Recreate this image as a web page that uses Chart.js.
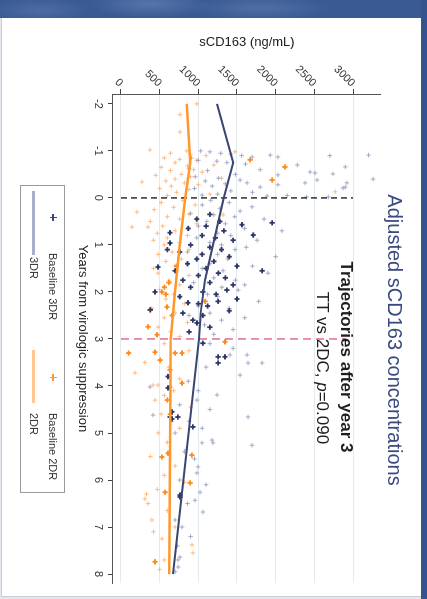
<!DOCTYPE html>
<html>
<head>
<meta charset="utf-8">
<script src="https://cdn.jsdelivr.net/npm/chart.js@4.4.1/dist/chart.umd.min.js"></script>
<style>
  html,body{margin:0;padding:0;}
  body{width:427px;height:599px;overflow:hidden;position:relative;background:#e4e7ee;font-family:"Liberation Sans",Arial,Helvetica,sans-serif;}
  #panel{position:absolute;left:1px;top:18px;width:420px;height:578px;background:#fff;border-left:1px solid #c9ccd3;border-bottom:1px solid #c9ccd3;}
  #bandTop{position:absolute;left:0;top:0;width:427px;height:18px;
    background:radial-gradient(ellipse 60px 14px at 150px 4px,rgba(120,150,200,0.45),rgba(0,0,0,0)),
               radial-gradient(ellipse 70px 12px at 260px 8px,rgba(120,150,200,0.35),rgba(0,0,0,0)),
               radial-gradient(ellipse 50px 12px at 40px 10px,rgba(120,150,200,0.3),rgba(0,0,0,0)),#3a5a93;z-index:5;}
  #bandRight{position:absolute;left:421px;top:0;width:6px;height:599px;background:#35548c;z-index:5;}
  #rot{position:absolute;left:0;top:0;width:599px;height:427px;transform-origin:0 0;transform:translate(427px,0) rotate(90deg);}
  #rot canvas{position:absolute;left:0;top:0;}
  .t{position:absolute;white-space:nowrap;text-align:center;}
  #legend{position:absolute;left:185px;top:362px;width:306px;height:43px;border:1px solid #9a9a9a;}
  #legend .lt{position:absolute;font-size:11px;line-height:12px;color:#333;white-space:nowrap;}
  .ph,.pv{position:absolute;}
</style>
</head>
<body>
<div id="panel"></div>
<div id="rot">
  <canvas id="c" width="599" height="427"></canvas>
  <div class="t" style="left:0;width:680px;top:20px;font-size:20px;line-height:24px;color:#3a4a80;">Adjusted sCD163 concentrations</div>
  <div class="t" style="left:157px;width:400px;top:71px;font-size:17px;line-height:20px;font-weight:bold;color:#1e1e1e;">Trajectories after year 3</div>
  <div class="t" style="left:168px;width:400px;top:95px;font-size:17px;line-height:20px;color:#1e1e1e;">TT vs 2DC, <i>p</i>=0.090</div>
  <div id="legend">
    <div class="ph" style="left:28px;top:10px;width:7px;height:1.5px;background:#3c4878;"></div>
    <div class="pv" style="left:30.8px;top:7.2px;width:1.5px;height:7px;background:#3c4878;"></div>
    <div class="lt" style="left:67px;top:5px;">Baseline 3DR</div>
    <div class="ph" style="left:188px;top:10px;width:7px;height:1.5px;background:#ff9433;"></div>
    <div class="pv" style="left:190.8px;top:7.2px;width:1.5px;height:7px;background:#ff9433;"></div>
    <div class="lt" style="left:227px;top:5px;">Baseline 2DR</div>
    <div class="ph" style="left:5px;top:28.5px;width:64px;height:3px;background:#a9aecb;"></div>
    <div class="lt" style="left:71px;top:24px;">3DR</div>
    <div class="ph" style="left:164px;top:28.5px;width:53px;height:3px;background:#ffc78f;"></div>
    <div class="lt" style="left:227px;top:24px;">2DR</div>
  </div>
</div>
<div id="bandTop"></div>
<div id="bandRight"></div>
<script>
// ---- axis ticks ----
const xTickValues = [-2, -1, 0, 1, 2, 3, 4, 5, 6, 7, 8];
const xTickLabels = ['-2', '-1', '0', '1', '2', '3', '4', '5', '6', '7', '8'];
const yTickValues = [0, 500, 1000, 1500, 2000, 2500, 3000];
const yTickLabels = ['0', '500', '1000', '1500', '2000', '2500', '3000'];

// ---- fitted trajectories ----
const years3DR = [-2, -0.75, 0, 1, 1.75, 2.45, 3, 8];
const sCD163_3DR = [1242, 1450, 1330, 1190, 1087, 1030, 1010, 673];
const years2DR = [-2, -0.75, 0, 1, 2, 3, 8];
const sCD163_2DR = [850, 895, 830, 760, 700, 645, 625];

// ---- reference lines ----
const refYears = [0, 3];
const refTop = [3000, 2900];

// ---- observations [years, sCD163] ----
const obs3DR = [
[-1.0,1030],[-0.98,1150],[-0.95,1290],[-0.93,1420],[-0.9,1560],[-0.87,1695],[-0.91,1930],[-0.87,2030],[-0.91,3200],[-0.9,2700],
[-0.85,910],[-0.8,1000],[-0.78,1240],[-0.75,1370],[-0.72,1610],[-0.7,2280],[-0.66,2900],[-0.66,2120],[-0.62,880],[-0.6,1800],
[-0.58,1120],[-0.55,2445],[-0.53,2510],[-0.51,2740],[-0.5,1480],[-0.49,2030],[-0.45,960],[-0.42,1260],[-0.4,3260],[-0.38,2535],
[-0.38,1540],[-0.36,1090],[-0.32,1630],[-0.32,2380],[-0.32,2920],[-0.3,1350],[-0.28,2030],[-0.25,1180],[-0.23,1800],[-0.23,2900],
[-0.21,2870],[-0.2,950],[-0.15,1420],[-0.12,1700],[-0.08,1250],[-0.05,2150],[-0.04,1890],[-0.02,2400],[-0.02,2680],[-0.06,1050],
[0.05,1160],[0.1,1400],[0.15,1050],[0.19,1695],[0.22,1280],[0.28,1540],[0.33,900],[0.36,1200],[0.4,1470],[0.45,1850],
[0.5,1110],[0.55,1350],[0.6,1000],[0.65,1600],[0.7,2080],[0.75,1250],[0.8,1420],[0.85,980],[0.9,1760],[0.95,1150],
[1.0,1300],[1.05,1620],[1.1,1475],[1.15,860],[1.2,1250],[1.25,2000],[1.3,1380],[1.4,1150],[1.45,1700],[1.5,1050],
[1.55,1320],[1.6,1900],[1.7,1200],[1.75,1480],[1.8,940],[1.85,1600],[1.9,1305],[1.96,1515],[2.05,1120],[2.1,1250],
[2.2,1780],[2.3,1000],[2.35,1400],[2.45,1150],[2.5,880],[2.55,1600],[2.6,1300],[2.7,1080],[2.8,1450],[2.9,1200],
[3.1,1150],[3.2,1450],[3.34,1410],[3.34,1630],[3.51,1643],[3.51,1825],[3.6,1100],[3.77,1540],[3.9,870],[4.02,375],
[4.1,1000],[4.19,1242],[4.3,983],[4.4,760],[4.5,1150],[4.62,414],[4.66,1643],[4.75,880],[4.9,1050],[5.0,700],
[5.15,1177],[5.21,1048],[5.21,1190],[5.26,1695],[5.4,820],[5.55,950],[5.72,996],[5.85,983],[6.0,760],[6.1,1100],
[6.26,1022],[6.43,957],[6.5,860],[6.68,1060],[6.85,700],[7.0,789],[7.2,900],[7.4,730],[7.64,763],[7.7,737],[7.85,740],[7.95,700]
];
const baseline3DR = [
[0.35,1150],[0.45,980],[0.5,1280],[0.57,1565],[0.53,1955],[0.6,1100],[0.65,870],[0.7,1330],[0.74,634],[0.79,1710],
[0.8,1050],[0.85,1220],[0.9,1450],[0.96,634],[1.0,900],[1.05,1150],[1.1,1300],[1.1,600],[1.15,760],[1.2,1050],
[1.25,1400],[1.3,980],[1.35,1200],[1.4,860],[1.45,1500],[1.47,479],[1.5,1100],[1.55,1825],[1.55,700],[1.6,1260],
[1.65,1000],[1.7,1350],[1.75,800],[1.8,1150],[1.85,1450],[1.9,900],[1.96,1370],[2.0,440],[2.0,1060],[2.05,1230],
[2.1,760],[2.15,1500],[2.2,1255],[2.23,867],[2.25,1000],[2.3,1120],[2.38,380],[2.4,1400],[2.45,800],[2.5,1060],
[2.6,930],[2.66,983],[2.75,1150],[2.85,880],[3.09,1060],[3.38,1255],[3.38,1345],[3.51,1255],[3.8,608],[4.04,608],
[4.55,660],[4.66,737],[4.66,634],[4.87,931],[4.7,660],[6.32,763],[6.36,763]
];
const obs2DR = [
[-2.0,980],[-1.77,763],[-1.4,763],[-1.02,375],[-1.0,850],[-0.98,1475],[-0.95,640],[-0.92,900],[-0.9,1100],[-0.85,560],
[-0.82,760],[-0.8,980],[-0.75,700],[-0.7,1200],[-0.68,860],[-0.65,520],[-0.6,940],[-0.58,640],[-0.55,1050],[-0.5,780],
[-0.48,450],[-0.45,900],[-0.42,1300],[-0.4,700],[-0.36,580],[-0.34,272],[-0.32,820],[-0.28,1000],[-0.25,650],[-0.2,500],
[-0.18,880],[-0.13,2770],[-0.12,720],[-0.08,1150],[-0.05,600],
[0.05,800],[0.1,520],[0.15,960],[0.2,680],[0.25,430],[0.3,207],[0.35,880],[0.36,1320],[0.4,600],[0.45,760],
[0.5,380],[0.55,980],[0.6,540],[0.62,142],[0.62,350],[0.7,700],[0.75,470],[0.8,860],[0.85,600],[0.9,420],
[0.95,760],[1.0,560],[1.1,880],[1.15,660],[1.2,480],[1.3,780],[1.35,580],[1.45,700],[1.5,420],[1.6,479],
[1.65,880],[1.75,620],[1.85,760],[1.95,500],[2.05,680],[2.15,580],[2.25,820],[2.35,400],[2.45,700],[2.55,560],
[2.65,860],[2.75,480],[2.85,640],[2.95,760],
[3.1,560],[3.25,880],[3.5,310],[3.6,620],[3.72,181],[3.85,760],[3.98,414],[3.98,479],[4.1,680],[4.2,560],
[4.3,440],[4.45,900],[4.6,520],[4.75,660],[4.9,760],[5.0,480],[5.2,600],[5.35,840],[5.5,380],[5.7,700],
[5.9,560],[6.05,820],[6.2,470],[6.3,330],[6.4,310],[6.5,350],[6.65,600],[6.85,400],[7.0,700],[7.1,420],
[7.25,530],[7.38,918],[7.55,931],[7.7,560],[7.9,500]
];
const baseline2DR = [
[-0.81,1670],[-0.66,2120],[-0.38,1955],[1.45,720],[1.8,620],[1.9,560],[2.0,530],[2.05,580],[2.2,1087],[2.32,595],
[2.38,375],[2.5,660],[2.74,350],[2.91,466],[3.06,1345],[3.28,440],[3.3,100],[3.3,700],[3.3,789],[3.45,505],
[3.66,634],[3.94,789],[4.02,634],[4.3,600],[4.6,640],[5.43,608],[5.47,918],[5.51,530],[6.06,893],[6.26,570],[7.74,440]
];

const FONT = '"Liberation Sans", Arial, Helvetica, sans-serif';
const pairs = a => a.map(p => ({x: p[0], y: p[1]}));
const zipXY = (xs, ys) => xs.map((x, i) => ({x: x, y: ys[i]}));

new Chart(document.getElementById('c'), {
  type: 'scatter',
  data: {
    datasets: [
      {label: '3DR', data: zipXY(years3DR, sCD163_3DR), showLine: true, borderColor: '#3a4574', borderWidth: 2, pointRadius: 0, tension: 0, order: 0},
      {label: '2DR', data: zipXY(years2DR, sCD163_2DR), showLine: true, borderColor: '#ff982c', borderWidth: 2.5, pointRadius: 0, tension: 0, order: 1},
      {label: 'ref0', data: [{x: refYears[0], y: 0}, {x: refYears[0], y: refTop[0]}], showLine: true, borderColor: '#222', borderWidth: 1.4, borderDash: [6, 4], pointRadius: 0, order: 2},
      {label: 'ref3', data: [{x: refYears[1], y: 0}, {x: refYears[1], y: refTop[1]}], showLine: true, borderColor: '#d9487f', borderWidth: 1.2, borderDash: [8, 5], pointRadius: 0, order: 2},
      {label: 'Baseline 3DR', data: pairs(baseline3DR), pointStyle: 'cross', pointRadius: 2.6, pointBorderWidth: 1.8, borderColor: '#2c3868', pointBorderColor: '#2c3868', backgroundColor: '#2c3868', order: 3},
      {label: 'Baseline 2DR', data: pairs(baseline2DR), pointStyle: 'cross', pointRadius: 2.6, pointBorderWidth: 1.8, borderColor: '#ff8a1c', pointBorderColor: '#ff8a1c', backgroundColor: '#ff8a1c', order: 3},
      {label: 'obs 3DR', data: pairs(obs3DR), pointStyle: 'cross', pointRadius: 2.3, pointBorderWidth: 1, borderColor: 'rgba(140,148,185,0.75)', pointBorderColor: 'rgba(140,148,185,0.75)', order: 4},
      {label: 'obs 2DR', data: pairs(obs2DR), pointStyle: 'cross', pointRadius: 2.3, pointBorderWidth: 1, borderColor: 'rgba(255,165,90,0.7)', pointBorderColor: 'rgba(255,165,90,0.7)', order: 4}
    ]
  },
  options: {
    responsive: false,
    animation: false,
    devicePixelRatio: 1,
    layout: {padding: {left: 0, top: 46, right: 16, bottom: 0}},
    plugins: {legend: {display: false}, tooltip: {enabled: false}},
    scales: {
      x: {
        type: 'linear', position: 'bottom', min: -2.21, max: 8.19,
        afterBuildTicks: s => { s.ticks = xTickValues.map(v => ({value: v})); },
        afterFit: s => { s.height = 113; },
        grid: {drawOnChartArea: false, drawTicks: true, tickLength: 5, tickColor: '#444', tickWidth: 1},
        border: {display: true, color: '#555', width: 1},
        ticks: {font: {size: 11, family: FONT}, color: '#333', padding: 3, minRotation: 0, maxRotation: 0, callback: (v, i) => xTickLabels[i]},
        title: {display: true, text: 'Years from virologic suppression', font: {size: 13, family: FONT}, color: '#222', padding: {top: 0, bottom: 75}}
      },
      y: {
        type: 'linear', position: 'left', min: -103, max: 3362,
        afterBuildTicks: s => { s.ticks = yTickValues.map(v => ({value: v})); },
        afterFit: s => { s.width = 94; },
        grid: {color: '#e2eaec', lineWidth: 1, drawTicks: true, tickLength: 5, tickColor: '#444', tickWidth: 1},
        border: {display: true, color: '#555', width: 1},
        ticks: {font: {size: 11, family: FONT}, color: '#333', padding: 4, minRotation: 45, maxRotation: 45, callback: (v, i) => yTickLabels[i]},
        title: {display: true, text: 'sCD163 (ng/mL)', font: {size: 13, family: FONT}, color: '#222', padding: {top: 35, bottom: 0}}
      }
    }
  }
});
</script>
</body>
</html>
